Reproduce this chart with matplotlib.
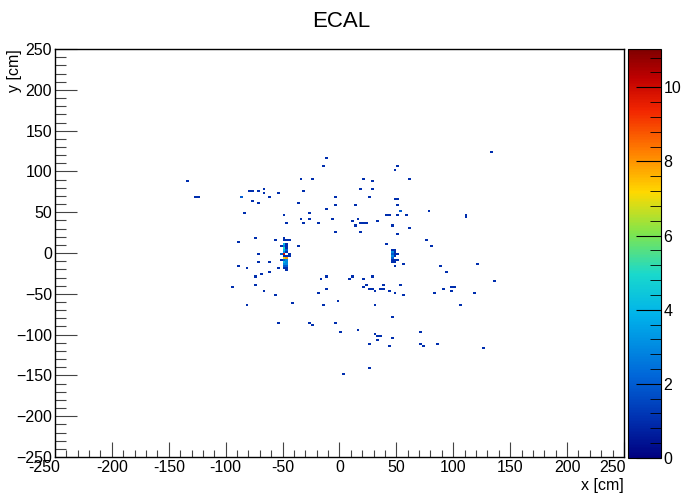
import numpy as np
import matplotlib
matplotlib.use('Agg')
import matplotlib.pyplot as plt
from matplotlib.ticker import MultipleLocator, FuncFormatter
from matplotlib.colors import LinearSegmentedColormap
import matplotlib.transforms as mtransforms

plt.rcParams['font.family'] = ['Liberation Sans', 'DejaVu Sans']

# Hit positions (cm) and hit counts.
hit_x = [
    -134.6, -126.7, -123.2, -87.1, -76.6, -78.3, -66.9, -70.4, -66.9, -76.6,
    -70.4, -60.7, -54.5, -83.2, -73.1, -48.4, -46.7, -34.4, -24.7, -30.8,
    -37.0, -26.4, -34.4, -26.4, -30.8, -18.5, -10.6, -15.0, -4.5, -4.5,
    -10.6, -6.2, -2.7, 13.1, 11.4, 15.8, 17.6, 21.1, 29.0, 29.0,
    27.2, 13.1, 19.3, 21.1, 23.8, 19.3, 33.4, 47.5, 51.9, 61.6,
    47.5, 51.9, 51.9, 53.6, 41.3, 43.1, 51.9, 59.8, 45.7, 61.6,
    51.9, 79.6, 111.3, 111.3, 134.0,
    -89.2, -56.6, -37.0, -70.4, 40.9, 75.2, 81.3,
    -88.9, -81.0, -70.4, -60.7, -54.5, -62.5, -68.7, -74.8, -73.1, -66.9,
    -95.0, -56.3, -81.0, -40.2, -54.5, -26.4, -22.9, -15.0, -18.5, -16.8,
    -10.6, -10.6, -1.1, -2.7, 1.7, 15.8, 9.6, 11.4, 21.1, 29.0,
    23.8, 21.1, 25.5, 29.0, 31.7, 35.2, 39.6, 43.1, 39.6, 47.5,
    53.6, 57.1, 31.7, 45.7, 31.7, 33.4, 35.2, 33.4, 25.5, 43.1,
    45.7, 27.2, 3.4, 71.3, 71.3, 73.9, 85.1, 125.5, 83.4, 91.3,
    99.2, 101.0, 99.2, 107.1, 119.4, 137.0, 121.2, 89.6, 93.0, 47.5,
    55.4, 51.9,
    # shower at x ~ -48
    -48.75, -48.75, -46.25, -43.75, -48.75, -46.25, -51.25, -48.75, -46.25,
    -48.75, -46.25, -48.75, -46.25, -48.75, -46.25, -51.25, -48.75, -43.75,
    -48.75, -46.25, -43.75, -48.75, -46.25, -51.25, -48.75, -46.25, -48.75,
    -46.25, -48.75, -46.25, -48.75, -46.25, -48.75, -46.25, -46.25,
    # shower at x ~ 47
    46.25, 48.75, 46.25, 48.75, 51.25, 46.25, 48.75, 46.25, 48.75, 46.25,
    46.25, 48.75, 46.25, 48.75,
]
hit_y = [
    89.5, 69.1, 69.1, 67.9, 77.3, 75.2, 79.7, 75.2, 74.0, 63.0,
    61.8, 67.9, 74.0, 49.6, 17.6, 47.1, 37.2, 91.4, 90.1, 75.2,
    61.8, 49.6, 40.9, 40.9, 37.2, 37.2, 115.9, 107.3, 69.1, 58.0,
    53.2, 40.9, 25.0, 59.3, 39.7, 40.9, 77.7, 90.1, 87.5, 77.7,
    69.1, 33.5, 35.9, 37.2, 37.2, 27.4, 39.7, 102.2, 107.3, 91.4,
    65.4, 65.4, 58.0, 52.0, 47.1, 47.1, 47.1, 47.1, 33.5, 31.1,
    23.8, 52.0, 46.0, 43.5, 124.0,
    14.7, 15.0, 8.9, -0.8, 11.0, 15.9, 9.8,
    -16.7, -19.5, -10.6, -10.6, -19.5, -23.2, -25.6, -29.3, -39.1, -45.2,
    -41.6, -51.4, -63.6, -61.2, -86.9, -86.9, -89.3, -63.6, -47.7, -30.5,
    -29.3, -42.8, -58.7, -86.9, -95.5, -93.0, -30.5, -29.3, -30.5, -29.3,
    -37.7, -41.6, -42.8, -42.8, -45.2, -42.8, -42.8, -45.2, -39.1, -48.9,
    -37.7, -51.4, -64.8, -79.5, -99.1, -101.6, -101.6, -105.3, -111.4, -112.6,
    -102.8, -140.8, -149.4, -95.5, -111.4, -112.6, -111.4, -117.5, -48.9, -42.8,
    -41.6, -41.6, -45.2, -64.8, -48.9, -33.0, -14.3, -16.7, -23.2, -16.7,
    -14.7, -8.5,
    18.75, 16.25, 16.25, 16.25, 11.25, 11.25, 8.75, 8.75, 8.75,
    6.25, 6.25, 3.75, 3.75, 1.25, 1.25, -1.25, -1.25, -1.25,
    -3.75, -3.75, -3.75, -6.25, -6.25, -8.75, -8.75, -8.75, -11.25,
    -11.25, -13.75, -13.75, -16.25, -16.25, -18.75, -18.75, -21.25,
    3.75, 3.75, 1.25, 1.25, -1.25, -1.25, -1.25, -3.75, -3.75, -6.25,
    -8.75, -8.75, -11.25, -11.25,
]
hit_n = [
    1, 1, 1, 2, 1, 1, 1, 1, 1, 1,
    1, 1, 1, 1, 1, 1, 1, 1, 1, 1,
    1, 1, 1, 1, 1, 1, 1, 1, 1, 1,
    1, 1, 1, 1, 1, 1, 1, 1, 1, 1,
    1, 1, 1, 1, 1, 1, 1, 1, 1, 1,
    1, 1, 1, 2, 1, 1, 1, 1, 1, 1,
    1, 1, 1, 1, 1,
    1, 1, 1, 1, 1, 1, 1,
    1, 1, 1, 1, 1, 1, 1, 1, 1, 1,
    1, 1, 1, 1, 1, 1, 1, 1, 1, 1,
    1, 1, 1, 1, 1, 1, 1, 1, 1, 1,
    1, 1, 1, 1, 1, 1, 1, 1, 1, 1,
    1, 1, 1, 1, 1, 1, 1, 1, 1, 1,
    1, 1, 1, 1, 1, 1, 1, 1, 1, 1,
    1, 1, 1, 1, 1, 1, 1, 1, 1, 1,
    1, 1,
    1, 1, 1, 1, 4, 1, 1, 3, 1,
    5, 1, 4, 2, 3, 1, 2, 10, 1,
    1, 1, 1, 7, 8, 1, 2, 3, 4,
    3, 3, 3, 2, 2, 1, 1, 1,
    1, 1, 3, 1, 1, 2, 1, 3, 1, 2,
    1, 1, 1, 1,
]

# 200 x 200 bins of 2.5 cm
edges = np.linspace(-250, 250, 201)
H, xe, ye = np.histogram2d(hit_x, hit_y, bins=[edges, edges], weights=hit_n)
H = np.ma.masked_where(H <= 0, H)
zmax = 11.03

# rainbow palette close to the ROOT one in the picture
palette = LinearSegmentedColormap.from_list('rootrainbow', [
    (0.00, (0.00, 0.00, 0.50)),
    (0.10, (0.00, 0.20, 0.70)),
    (0.20, (0.00, 0.40, 0.85)),
    (0.35, (0.00, 0.70, 0.92)),
    (0.45, (0.10, 0.85, 0.80)),
    (0.55, (0.50, 0.90, 0.30)),
    (0.65, (1.00, 0.85, 0.00)),
    (0.75, (1.00, 0.50, 0.00)),
    (0.85, (0.95, 0.15, 0.00)),
    (0.93, (0.75, 0.00, 0.00)),
    (1.00, (0.50, 0.00, 0.00)),
])

fig = plt.figure(figsize=(6.83, 4.95), dpi=100)
ax = fig.add_axes([0.0805, 0.0768, 0.833, 0.824])
cax = fig.add_axes([0.9195, 0.0748, 0.048, 0.826])

mesh = ax.pcolormesh(xe, ye, H.T, cmap=palette, vmin=0, vmax=zmax)
ax.set_xlim(-250, 250)
ax.set_ylim(-250, 250)

for a in (ax.xaxis, ax.yaxis):
    a.set_major_locator(MultipleLocator(50))
    a.set_minor_locator(MultipleLocator(10))
ax.tick_params(which='both', direction='in', top=False, right=False,
               labelsize=11.5, width=0.8, color='#444444')
ax.tick_params(axis='x', which='major', length=11, pad=2)
ax.tick_params(axis='x', which='minor', length=5)
ax.tick_params(axis='y', which='major', length=16, pad=2)
ax.tick_params(axis='y', which='minor', length=8)
for s in ax.spines.values():
    s.set_linewidth(1.0)

# ROOT pushes the two end labels of the x axis to the left,
# so those two are written by hand
xlim = ax.get_xlim()
ax.xaxis.set_major_formatter(FuncFormatter(
    lambda v, p: '' if v in xlim else '%g' % v))
shift = mtransforms.ScaledTranslation(-0.11, -0.03, fig.dpi_scale_trans)
edge_tf = ax.get_xaxis_transform() + shift
for v in xlim:
    ax.text(v, 0, '%g' % v, transform=edge_tf, ha='center', va='top',
            fontsize=11.5)

ax.set_xlabel('x [cm]', fontsize=11.5, loc='right', labelpad=2)
ax.set_ylabel('y [cm]', fontsize=11.5, loc='top', labelpad=-4)
fig.suptitle('ECAL', fontsize=16, y=0.977)

cb = fig.colorbar(mesh, cax=cax)
cb.outline.set_linewidth(0.8)
cax.yaxis.set_major_locator(MultipleLocator(2))
cax.yaxis.set_minor_locator(MultipleLocator(0.4))
cax.tick_params(which='both', direction='in', labelsize=11.5, color='black')
cax.tick_params(which='major', length=18, width=0.8, pad=2)
cax.tick_params(which='minor', length=8, width=0.6)

fig.savefig('out.png', dpi=100)
